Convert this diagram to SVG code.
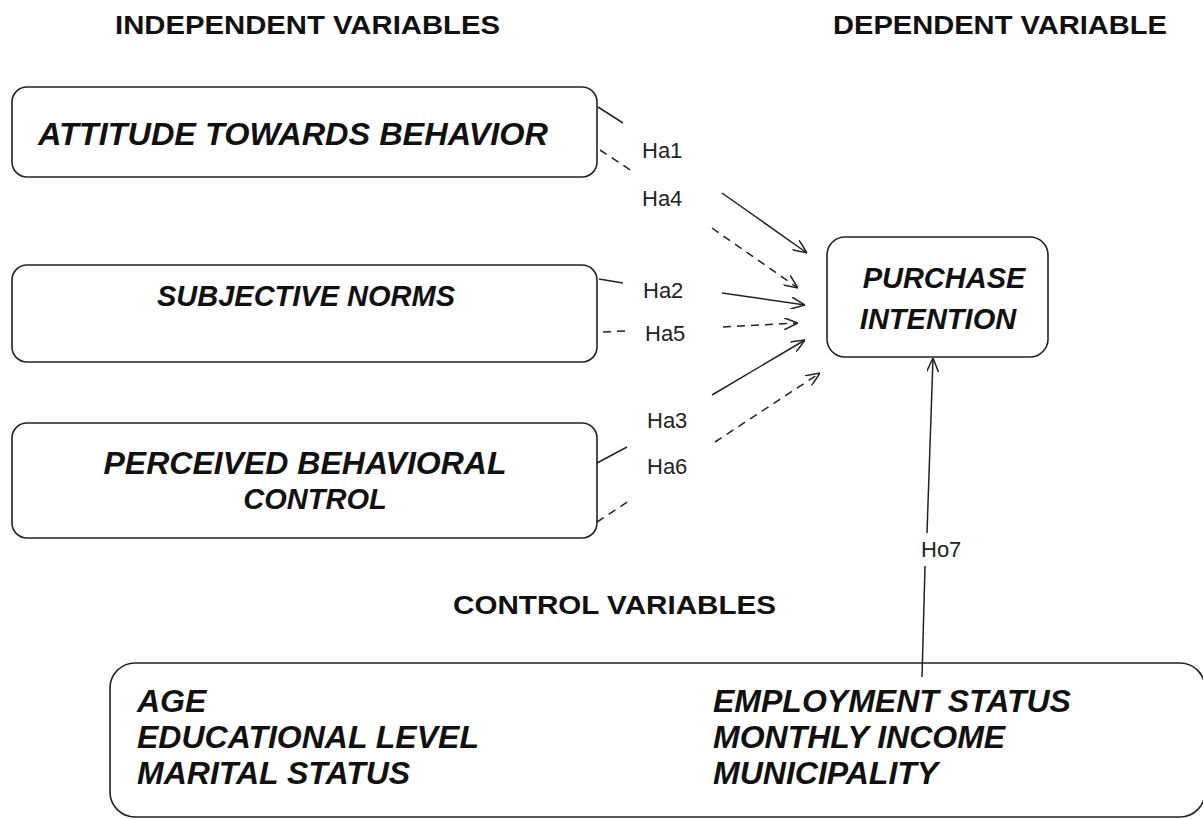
<svg xmlns="http://www.w3.org/2000/svg" width="1203" height="819" viewBox="0 0 1203 819">
<defs>
<marker id="arr" viewBox="0 0 14 12" refX="14" refY="6" markerWidth="14" markerHeight="12" markerUnits="userSpaceOnUse" orient="auto">
<path d="M0,0 L14,6 L0,12" fill="none" stroke="#222" stroke-width="1.5" stroke-dasharray="none"/>
</marker>
<style>
.box{fill:#fff;stroke:#222;stroke-width:1.6}
.hd{font-family:"Liberation Sans",Arial,sans-serif;font-weight:bold;font-size:26px;fill:#111}
.bi{font-family:"Liberation Sans",Arial,sans-serif;font-weight:bold;font-style:italic;font-size:32px;fill:#111}
.sm{font-size:29px}
.lb{font-family:"Liberation Sans",Arial,sans-serif;font-size:22px;fill:#222}
.c{fill:none;stroke:#222;stroke-width:1.5}
.d{stroke-dasharray:8 6}
</style>
</defs>
<rect width="1203" height="819" fill="#fff"/>
<g id="headers">
<text class="hd" x="115" y="34" textLength="385" lengthAdjust="spacingAndGlyphs">INDEPENDENT VARIABLES</text>
<text class="hd" x="833" y="34" textLength="334" lengthAdjust="spacingAndGlyphs">DEPENDENT VARIABLE</text>
<text class="hd" x="453" y="614" textLength="323" lengthAdjust="spacingAndGlyphs">CONTROL VARIABLES</text>
</g>
<g id="attitude">
<rect class="box" x="12" y="87" width="585" height="90" rx="15"/>
<text class="bi" x="38" y="145" textLength="510" lengthAdjust="spacingAndGlyphs">ATTITUDE TOWARDS BEHAVIOR</text>
</g>
<g id="subjective">
<rect class="box" x="12" y="265" width="585" height="97" rx="15"/>
<text class="bi sm" x="306" y="306" text-anchor="middle">SUBJECTIVE NORMS</text>
</g>
<g id="perceived">
<rect class="box" x="12" y="423" width="585" height="115" rx="15"/>
<text class="bi" x="305" y="474" text-anchor="middle">PERCEIVED BEHAVIORAL</text>
<text class="bi sm" x="315" y="509" text-anchor="middle">CONTROL</text>
</g>
<g id="purchase">
<rect class="box" x="827" y="237" width="221" height="120" rx="18"/>
<text class="bi sm" x="944" y="288" text-anchor="middle">PURCHASE</text>
<text class="bi sm" x="938" y="329" text-anchor="middle">INTENTION</text>
</g>
<g id="control">
<rect class="box" x="110" y="663" width="1095" height="154" rx="25"/>
<text class="bi" x="137" y="712">AGE</text>
<text class="bi" x="137" y="748">EDUCATIONAL LEVEL</text>
<text class="bi" x="137" y="784">MARITAL STATUS</text>
<text class="bi" x="713" y="712">EMPLOYMENT STATUS</text>
<text class="bi" x="713" y="748">MONTHLY INCOME</text>
<text class="bi" x="713" y="784">MUNICIPALITY</text>
</g>
<g id="connectors">
<path class="c" d="M598,107 L623,123"/>
<path class="c" d="M722,193 L807,253" marker-end="url(#arr)"/>
<path class="c d" d="M600,150 L635,173"/>
<path class="c d" d="M712,228 L798,288" marker-end="url(#arr)"/>
<path class="c" d="M599,279 L623,283"/>
<path class="c" d="M722,293 L805,305" marker-end="url(#arr)"/>
<path class="c d" d="M603,332 L625,331"/>
<path class="c d" d="M723,327 L798,323" marker-end="url(#arr)"/>
<path class="c" d="M597,463 L627,447"/>
<path class="c" d="M712,395 L805,340" marker-end="url(#arr)"/>
<path class="c d" d="M597,522 L632,499"/>
<path class="c d" d="M715,442 L820,373" marker-end="url(#arr)"/>
<path class="c" d="M922,677 L925,566"/>
<path class="c" d="M927,533 L933,358" marker-end="url(#arr)"/>
</g>
<g id="labels">
<text class="lb" x="642" y="158">Ha1</text>
<text class="lb" x="642" y="206">Ha4</text>
<text class="lb" x="643" y="298">Ha2</text>
<text class="lb" x="645" y="341">Ha5</text>
<text class="lb" x="647" y="428">Ha3</text>
<text class="lb" x="647" y="474">Ha6</text>
<text class="lb" x="921" y="557">Ho7</text>
</g>
</svg>
